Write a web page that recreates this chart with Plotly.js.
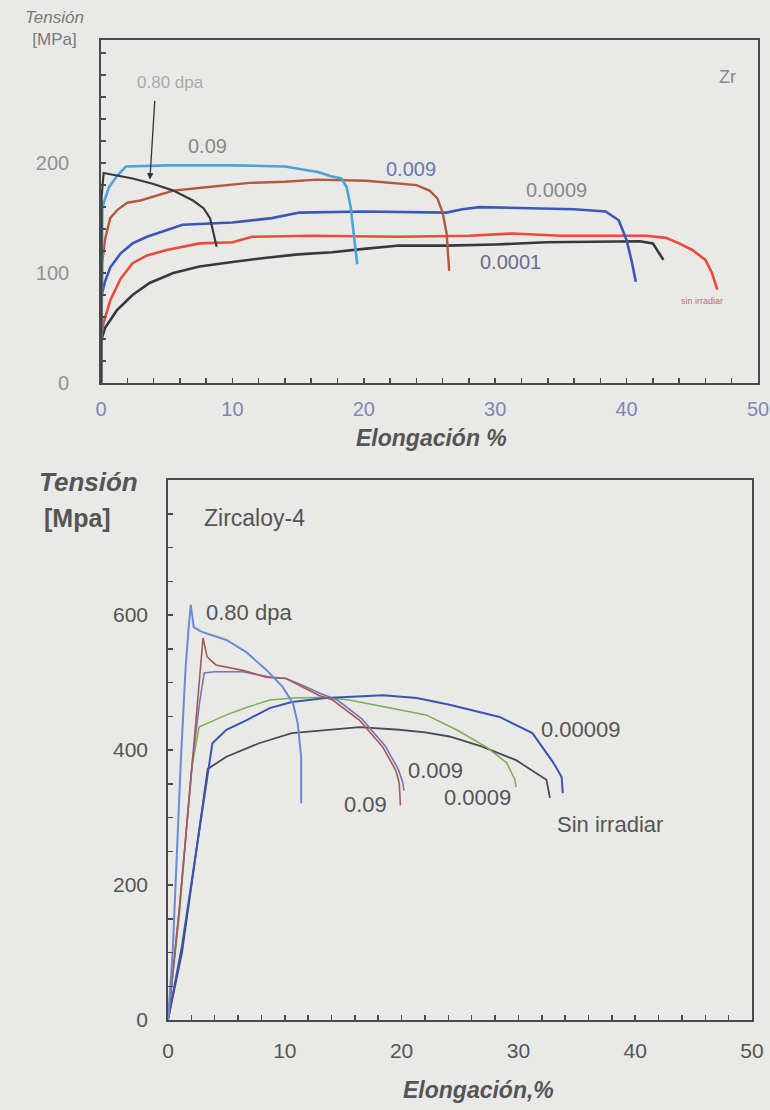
<!DOCTYPE html>
<html>
<head>
<meta charset="utf-8">
<script src="https://cdn.plot.ly/plotly-3.0.1.min.js"></script>
<style>
  html, body { margin: 0; padding: 0; background: #e9e9e7; }
  #chart { width: 770px; height: 1110px; }
</style>
</head>
<body>
<div id="chart"></div>
<script>
// ---------- Top chart: Zr ----------
const zrLabels = ["0.80 dpa", "0.09", "0.009", "0.0009", "0.0001", "sin irradiar"];
const zr08_x = [0, 0.05, 0.2, 1, 2.4, 4, 5.5, 7, 7.8, 8.3, 8.6, 8.8];
const zr08_y = [0, 170, 191, 189, 186, 181, 175, 166, 159, 150, 135, 124];
const zr09_x = [0, 0.1, 0.6, 1.2, 1.9, 5, 10, 14, 16.5, 17.5, 18.3, 18.7, 19.0, 19.3, 19.5];
const zr09_y = [0, 160, 178, 188, 197, 198, 198, 197, 192, 188, 186, 178, 160, 130, 108];
const zr009_x = [0, 0.1, 0.3, 0.7, 1.3, 2, 3, 5.5, 8, 11.3, 14, 16.4, 20.2, 22, 24, 25, 25.6, 26.0, 26.3, 26.5];
const zr009_y = [0, 110, 130, 150, 158, 164, 166, 175, 178, 182, 183, 185, 184, 182, 180, 175, 168, 155, 136, 102];
const zr0009_x = [0, 0.05, 0.3, 0.7, 1.5, 2.4, 3.5, 5, 6.2, 10, 13, 15.1, 20, 26.3, 27.5, 28.8, 33.9, 36, 38.4, 39.4, 40, 40.4, 40.7];
const zr0009_y = [0, 80, 92, 105, 118, 127, 133, 139, 144, 146, 150, 155, 156, 155, 158, 160, 159, 158, 156, 148, 130, 110, 92];
const zrSin_x = [0, 0.05, 0.2, 0.7, 1.5, 2.4, 3.5, 5, 7.5, 10, 11.5, 16, 22.7, 28, 31.3, 35, 38, 41.5, 43, 44, 45, 46, 46.5, 46.9];
const zrSin_y = [0, 45, 55, 75, 95, 109, 116, 121, 127, 128, 133, 134, 133, 134, 136, 134, 134, 134, 132, 127, 121, 112, 100, 85];
const zr0001_x = [0, 0.05, 0.3, 1.2, 2.4, 3.7, 5.5, 7.5, 10, 12.6, 15, 17.6, 20, 22.7, 26.3, 30, 33.9, 38.9, 41, 42, 42.5, 42.8];
const zr0001_y = [0, 40, 50, 66, 80, 91, 100, 106, 110, 114, 117, 119, 122, 125, 125, 126, 128, 129, 129, 127, 118, 112];

// ---------- Bottom chart: Zircaloy-4 ----------
const zyLabels = ["0.80 dpa", "0.09", "0.009", "0.0009", "0.00009", "Sin irradiar"];
const zy080_x = [0, 0.4, 1.1, 1.5, 1.8, 1.95, 2.2, 2.9, 5.0, 6.7, 8.4, 9.8, 10.7, 11.1, 11.4, 11.4];
const zy080_y = [0, 100, 385, 520, 588, 615, 582, 575, 563, 545, 519, 494, 469, 440, 390, 321];
const zy09_x = [0, 1, 2.1, 2.6, 3.0, 3.35, 4.1, 6.4, 8.4, 10.1, 11.5, 12.9, 14.1, 16.4, 18.4, 19.5, 19.8, 19.9];
const zy09_y = [0, 170, 385, 480, 566, 538, 526, 518, 508, 506, 494, 481, 474, 444, 404, 370, 351, 318];
const zy009_x = [0, 1, 2.1, 2.7, 3.1, 4, 6.4, 8.7, 10.1, 11.5, 13, 14.5, 16.6, 18.6, 19.7, 20.1, 20.2];
const zy009_y = [0, 170, 385, 470, 514, 516, 516, 508, 506, 496, 484, 474, 446, 406, 372, 352, 340];
const zy0009_x = [0, 1, 2.0, 2.66, 5.0, 6.9, 8.7, 10.7, 13.5, 15.5, 16.4, 18.4, 22.1, 24.7, 27.3, 29, 29.7, 29.8];
const zy0009_y = [0, 160, 370, 434, 452, 464, 474, 477, 478, 474, 471, 464, 452, 430, 404, 381, 356, 345];
const zy00009_x = [0, 1.2, 2.5, 3.5, 3.8, 5.0, 6.7, 8.7, 10.6, 13.5, 16.4, 18.4, 21.3, 24.1, 28.4, 31.2, 33, 33.7, 33.8];
const zy00009_y = [0, 110, 260, 380, 410, 430, 444, 462, 471, 477, 480, 481, 477, 467, 449, 425, 381, 360, 336];
const zySin_x = [0, 1.2, 2.5, 3.4, 5.0, 7.8, 10.6, 13.5, 16.4, 19.8, 22, 24.1, 26.9, 29.8, 31, 32.4, 32.7];
const zySin_y = [0, 100, 260, 372, 390, 410, 425, 430, 434, 430, 426, 420, 405, 385, 372, 356, 329];

// tick labels
const topXTicks = [0, 10, 20, 30, 40, 50];
const topYTicks = [0, 100, 200];
const botXTicks = [0, 10, 20, 30, 40, 50];
const botYTicks = [0, 200, 400, 600];

const FONT = "Liberation Sans, Arial, sans-serif";

function line(x, y, color, width, name, xa, ya) {
  return { x: x, y: y, type: "scatter", mode: "lines", name: name,
           line: { color: color, width: width }, xaxis: xa, yaxis: ya,
           hoverinfo: "skip", showlegend: false };
}

const data = [
  line(zr0001_x, zr0001_y, "#38383c", 2.6, zrLabels[4], "x", "y"),
  line(zrSin_x, zrSin_y, "#ec4a3a", 2.6, zrLabels[5], "x", "y"),
  line(zr0009_x, zr0009_y, "#3a58b8", 2.6, zrLabels[3], "x", "y"),
  line(zr009_x, zr009_y, "#b25a3e", 2.4, zrLabels[2], "x", "y"),
  line(zr09_x, zr09_y, "#4ea2da", 2.6, zrLabels[1], "x", "y"),
  line(zr08_x, zr08_y, "#3a3a3a", 2.2, zrLabels[0], "x", "y"),

  line(zySin_x, zySin_y, "#4a4a58", 1.8, zyLabels[5], "x2", "y2"),
  line(zy0009_x, zy0009_y, "#7cb04e", 1.5, zyLabels[3], "x2", "y2"),
  line(zy00009_x, zy00009_y, "#3a55b0", 2.0, zyLabels[4], "x2", "y2"),
  line(zy009_x, zy009_y, "#7a72b8", 1.6, zyLabels[2], "x2", "y2"),
  line(zy09_x, zy09_y, "#a45a55", 1.6, zyLabels[1], "x2", "y2"),
  line(zy080_x, zy080_y, "#6a8ad8", 2.0, zyLabels[0], "x2", "y2")
];

const axisLine = "#4a4a4a";

const layout = {
  width: 770, height: 1110,
  margin: { l: 0, r: 0, t: 0, b: 0 },
  paper_bgcolor: "#e9e9e7",
  plot_bgcolor: "#e9e9e7",
  font: { family: FONT, color: "#555" },
  showlegend: false,
  xaxis: {
    domain: [101 / 770, 758 / 770], anchor: "y",
    range: [0, 50], tickmode: "array", tickvals: topXTicks,
    ticks: "inside", ticklen: 5, tickcolor: axisLine, tickwidth: 1.5,
    minor: { dtick: 2, tick0: 0, ticks: "inside", ticklen: 5, tickcolor: axisLine, tickwidth: 1.5 },
    showline: true, linecolor: axisLine, linewidth: 1.8, mirror: true,
    showgrid: false, zeroline: false,
    tickfont: { size: 20, color: "#7f87b6", family: FONT },
    ticklabelstandoff: 7
  },
  yaxis: {
    domain: [1 - 383 / 1110, 1 - 40 / 1110], anchor: "x",
    range: [0, 312], tickmode: "array", tickvals: topYTicks,
    ticks: "inside", ticklen: 5, tickcolor: axisLine, tickwidth: 1.5,
    minor: { dtick: 20, tick0: 0, ticks: "inside", ticklen: 5, tickcolor: axisLine, tickwidth: 1.5 },
    showline: true, linecolor: axisLine, linewidth: 1.8, mirror: true,
    showgrid: false, zeroline: false,
    tickfont: { size: 20, color: "#929292", family: FONT },
    ticklabelstandoff: 26
  },
  xaxis2: {
    domain: [168 / 770, 752 / 770], anchor: "y2",
    range: [0, 50], tickmode: "array", tickvals: botXTicks,
    ticks: "inside", ticklen: 5, tickcolor: axisLine, tickwidth: 1.5,
    minor: { dtick: 2, tick0: 0, ticks: "inside", ticklen: 5, tickcolor: axisLine, tickwidth: 1.5 },
    showline: true, linecolor: axisLine, linewidth: 1.8, mirror: true,
    showgrid: false, zeroline: false,
    tickfont: { size: 21, color: "#555", family: FONT },
    ticklabelstandoff: 11
  },
  yaxis2: {
    domain: [1 - 1020 / 1110, 1 - 480 / 1110], anchor: "x2",
    range: [0, 800], tickmode: "array", tickvals: botYTicks,
    ticks: "inside", ticklen: 5, tickcolor: axisLine, tickwidth: 1.5,
    minor: { dtick: 50, tick0: 0, ticks: "inside", ticklen: 5, tickcolor: axisLine, tickwidth: 1.5 },
    showline: true, linecolor: axisLine, linewidth: 1.8, mirror: true,
    showgrid: false, zeroline: false,
    tickfont: { size: 21, color: "#555", family: FONT },
    ticklabelstandoff: 14
  },
  annotations: [
    // top chart axis titles
    { xref: "paper", yref: "paper", x: 54 / 770, y: 1 - 29 / 1110, xanchor: "center", yanchor: "middle",
      text: "<i>Tensión</i><br>[MPa]", showarrow: false, font: { size: 17, color: "#7a7a7a" } },
    { xref: "paper", yref: "paper", x: 431 / 770, y: 1 - 438 / 1110, xanchor: "center", yanchor: "middle",
      text: "<b><i>Elongación %</i></b>", showarrow: false, font: { size: 23, color: "#555" } },
    { xref: "x", yref: "y", x: 47.7, y: 278, text: "Zr", showarrow: false,
      font: { size: 18, color: "#8a8a8a" } },
    // top chart curve labels
    { xref: "x", yref: "y", x: 5.3, y: 273, text: "0.80 dpa", showarrow: false,
      font: { size: 17, color: "#ababab" } },
    { xref: "x", yref: "y", x: 3.72, y: 185, ax: 4.1, ay: 258, axref: "x", ayref: "y",
      text: "", showarrow: true, arrowhead: 2, arrowsize: 1, arrowwidth: 1.3, arrowcolor: "#333" },
    { xref: "x", yref: "y", x: 8.13, y: 216, text: "0.09", showarrow: false,
      font: { size: 20, color: "#8a8a8a" } },
    { xref: "x", yref: "y", x: 23.6, y: 195, text: "0.009", showarrow: false,
      font: { size: 20, color: "#6a78b8" } },
    { xref: "x", yref: "y", x: 34.7, y: 176, text: "0.0009", showarrow: false,
      font: { size: 20, color: "#8a8a8a" } },
    { xref: "x", yref: "y", x: 31.2, y: 110, text: "0.0001", showarrow: false,
      font: { size: 20, color: "#6a6f8a" } },
    { xref: "x", yref: "y", x: 45.7, y: 75, text: "sin irradiar", showarrow: false,
      font: { size: 9, color: "#c07070" } },

    // bottom chart axis titles
    { xref: "paper", yref: "paper", x: 37 / 770, y: 1 - 482 / 1110, xanchor: "left", yanchor: "middle",
      text: "<b><i>Tensión</i></b>", showarrow: false, font: { size: 26, color: "#555" } },
    { xref: "paper", yref: "paper", x: 42 / 770, y: 1 - 518 / 1110, xanchor: "left", yanchor: "middle",
      text: "<b>[Mpa]</b>", showarrow: false, font: { size: 25, color: "#555" } },
    { xref: "paper", yref: "paper", x: 478 / 770, y: 1 - 1090 / 1110, xanchor: "center", yanchor: "middle",
      text: "<b><i>Elongación,%</i></b>", showarrow: false, font: { size: 23, color: "#555" } },
    { xref: "paper", yref: "paper", x: 202 / 770, y: 1 - 518 / 1110, xanchor: "left", yanchor: "middle",
      text: "Zircaloy-4", showarrow: false, font: { size: 23, color: "#555" } },
    // bottom chart curve labels
    { xref: "x2", yref: "y2", x: 3.09, y: 603, xanchor: "left", text: "0.80 dpa", showarrow: false,
      font: { size: 22, color: "#555" } },
    { xref: "x2", yref: "y2", x: 31.8, y: 430, xanchor: "left", text: "0.00009", showarrow: false,
      font: { size: 22, color: "#555" } },
    { xref: "x2", yref: "y2", x: 20.4, y: 370, xanchor: "left", text: "0.009", showarrow: false,
      font: { size: 22, color: "#555" } },
    { xref: "x2", yref: "y2", x: 23.5, y: 329, xanchor: "left", text: "0.0009", showarrow: false,
      font: { size: 22, color: "#555" } },
    { xref: "x2", yref: "y2", x: 14.9, y: 319, xanchor: "left", text: "0.09", showarrow: false,
      font: { size: 22, color: "#555" } },
    { xref: "x2", yref: "y2", x: 33.1, y: 289, xanchor: "left", text: "Sin irradiar", showarrow: false,
      font: { size: 22, color: "#555" } }
  ]
};

Plotly.newPlot("chart", data, layout, { staticPlot: true, displayModeBar: false });
</script>
</body>
</html>
